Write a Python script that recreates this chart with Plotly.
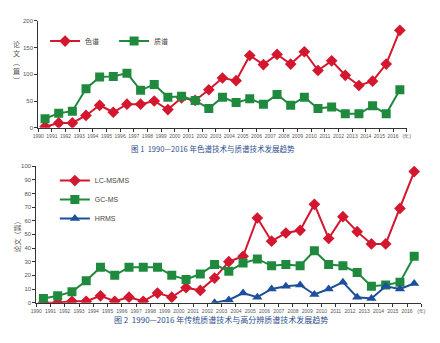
import plotly.graph_objects as go

years = list(range(1990, 2017))
tick_labels = [str(y) for y in years] + ["(年)"]

chrom = [2, 9, 9, 23, 42, 29, 44, 44, 50, 34, 56, 51, 71, 93, 88, 135, 118, 137, 119, 142, 107, 125, 98, 79, 87, 119, 182]
mass = [17, 27, 31, 73, 95, 96, 102, 70, 81, 57, 59, 51, 36, 57, 47, 54, 44, 62, 42, 57, 36, 39, 26, 26, 41, 26, 71]

lcms = [0, 0, 1, 1, 5, 1, 4, 1, 7, 4, 11, 9, 18, 30, 34, 62, 45, 51, 53, 72, 47, 63, 52, 43, 43, 69, 96]
gcms = [3, 5, 8, 16, 26, 20, 26, 26, 26, 20, 17, 21, 28, 23, 29, 32, 27, 28, 27, 38, 28, 27, 22, 12, 13, 15, 34]
hrms_years = list(range(2002, 2017))
hrms = [0, 2, 7, 4, 10, 12, 13, 6, 10, 15, 4, 3, 12, 10, 14]

RED = "#d2172e"
GREEN = "#1f8a3e"
BLUE = "#1d4f9c"
CAP = "#2b4d8c"

def xpos(ys):
    return [y - 1990 + 0.5 for y in ys]

fig = go.Figure()
fig.add_trace(go.Scatter(x=xpos(years), y=chrom, name="色谱", mode="lines+markers",
                         line=dict(color=RED, width=2), marker=dict(symbol="diamond", size=9, color=RED),
                         xaxis="x", yaxis="y", legend="legend"))
fig.add_trace(go.Scatter(x=xpos(years), y=mass, name="质谱", mode="lines+markers",
                         line=dict(color=GREEN, width=2), marker=dict(symbol="square", size=9, color=GREEN),
                         xaxis="x", yaxis="y", legend="legend"))
fig.add_trace(go.Scatter(x=xpos(years), y=lcms, name="LC-MS/MS", mode="lines+markers",
                         line=dict(color=RED, width=2), marker=dict(symbol="diamond", size=9, color=RED),
                         xaxis="x2", yaxis="y2", legend="legend2"))
fig.add_trace(go.Scatter(x=xpos(years), y=gcms, name="GC-MS", mode="lines+markers",
                         line=dict(color=GREEN, width=2), marker=dict(symbol="square", size=9, color=GREEN),
                         xaxis="x2", yaxis="y2", legend="legend2"))
fig.add_trace(go.Scatter(x=xpos(hrms_years), y=hrms, name="HRMS", mode="lines+markers",
                         line=dict(color=BLUE, width=2), marker=dict(symbol="triangle-up", size=9, color=BLUE),
                         xaxis="x2", yaxis="y2", legend="legend2"))

W, H = 440, 343
def px(x): return x / W
def py(y): return (H - y) / H

axis_common = dict(showgrid=False, zeroline=False, showline=True, linecolor="#333", linewidth=1,
                   ticks="outside", ticklen=3, tickcolor="#333", tickfont=dict(size=6, color="#555", family="Liberation Sans"))
xcommon = dict(axis_common, tickvals=list(range(28)), ticktext=tick_labels, range=[0, 27],
               tickfont=dict(size=5, color="#555", family="Liberation Sans"))

fig.update_layout(
    width=W, height=H, margin=dict(l=0, r=0, t=0, b=0),
    paper_bgcolor="white", plot_bgcolor="white",
    font=dict(family="Noto Sans CJK SC"),
    xaxis=dict(xcommon, domain=[px(33), px(410)], anchor="y"),
    yaxis=dict(axis_common, domain=[py(127), py(18)], range=[0, 200], tickvals=[0, 50, 100, 150, 200], anchor="x"),
    xaxis2=dict(xcommon, domain=[px(31), px(425)], anchor="y2"),
    yaxis2=dict(axis_common, domain=[py(305), py(166)], range=[0, 100], tickvals=list(range(0, 101, 10)), anchor="x2"),
    legend=dict(orientation="h", x=px(40), y=py(24), xanchor="left", yanchor="top",
                font=dict(size=7, color="#444"), bgcolor="rgba(0,0,0,0)", itemwidth=30,
                entrywidth=24, entrywidthmode="pixels", tracegroupgap=0),
    legend2=dict(orientation="v", x=px(50), y=py(166), xanchor="left", yanchor="top",
                 font=dict(size=7, color="#444", family="Liberation Sans"), bgcolor="rgba(0,0,0,0)",
                 itemwidth=30, tracegroupgap=0),
    showlegend=True,
)

fig.add_annotation(text="论<br>文<br>︵<br>篇<br>︶", x=px(11), y=py(60), xref="paper", yref="paper",
                   xanchor="center", yanchor="middle",
                   showarrow=False, font=dict(size=7, color="#555"), align="center")
fig.add_annotation(text="论文（篇）", x=px(11), y=py(236), xref="paper", yref="paper", textangle=-90,
                   xanchor="center", yanchor="middle",
                   showarrow=False, font=dict(size=7, color="#555"))
fig.add_annotation(text="图 1  1990—2016 年色谱技术与质谱技术发展趋势", x=px(212), y=py(148), xref="paper", yref="paper",
                   showarrow=False, font=dict(size=7.5, color=CAP))
fig.add_annotation(text="图 2  1990—2016 年传统质谱技术与高分辨质谱技术发展趋势", x=px(220), y=py(330), xref="paper", yref="paper",
                   showarrow=False, font=dict(size=8, color=CAP))

fig.write_html("out.html")
